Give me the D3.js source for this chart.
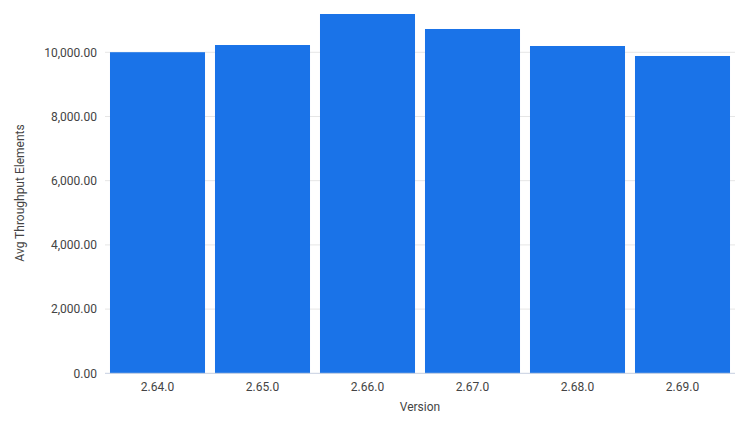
<!DOCTYPE html>
<meta charset="utf-8">
<style>
body { margin: 0; background: #fff; }
svg { font-family: Roboto, "Noto Sans", sans-serif; }
.tick text { fill: #444; font-size: 12px; font-family: Roboto, "Noto Sans", sans-serif; }
.axis-title { fill: #444; font-size: 12px; }
</style>
<body>
<script src="https://d3js.org/d3.v7.min.js"></script>
<script>

// data
var versions = ["2.64.0", "2.65.0", "2.66.0", "2.67.0", "2.68.0", "2.69.0"];
var throughput = [10003, 10227, 11193, 10726, 10196, 9885];
var yTicks = [0, 2000, 4000, 6000, 8000, 10000];

var width = 745, height = 429;
var left = 105, right = 735, bottom = 373.3;

var svg = d3.select("body").append("svg")
    .attr("width", width)
    .attr("height", height);

var x = d3.scaleBand()
    .domain(versions)
    .range([left, right])
    .paddingInner(0.095)
    .paddingOuter(0.0475);

var y = d3.scaleLinear()
    .domain([0, 10000])
    .range([bottom, 52.3]);

// gridlines
svg.append("g")
  .selectAll("line")
  .data(yTicks.slice(1))
  .join("line")
    .attr("x1", left).attr("x2", right)
    .attr("y1", d => y(d)).attr("y2", d => y(d))
    .attr("stroke", "#e6e6e6");

// bars
svg.append("g")
  .selectAll("rect")
  .data(versions)
  .join("rect")
    .attr("x", d => x(d))
    .attr("width", x.bandwidth())
    .attr("y", (d, i) => y(throughput[i]))
    .attr("height", (d, i) => bottom - y(throughput[i]))
    .attr("fill", "#1a73e8");

// baseline
svg.append("line")
    .attr("x1", left).attr("x2", right)
    .attr("y1", bottom).attr("y2", bottom)
    .attr("stroke", "#c6cfe0");

// y axis
var yAxis = svg.append("g")
    .attr("transform", "translate(" + left + ",0)")
    .call(d3.axisLeft(y).tickValues(yTicks).tickFormat(d3.format(",.2f")).tickSize(0).tickPadding(8));
yAxis.select(".domain").remove();

// x axis
var xAxis = svg.append("g")
    .attr("transform", "translate(0," + bottom + ")")
    .call(d3.axisBottom(x).tickSize(0).tickPadding(9));
xAxis.select(".domain").remove();

// axis titles
svg.append("text")
    .attr("class", "axis-title")
    .attr("x", (left + right) / 2)
    .attr("y", 411)
    .attr("text-anchor", "middle")
    .text("Version");

svg.append("text")
    .attr("class", "axis-title")
    .attr("transform", "translate(24," + 193 + ") rotate(-90)")
    .attr("text-anchor", "middle")
    .text("Avg Throughput Elements");

</script>
</body>
